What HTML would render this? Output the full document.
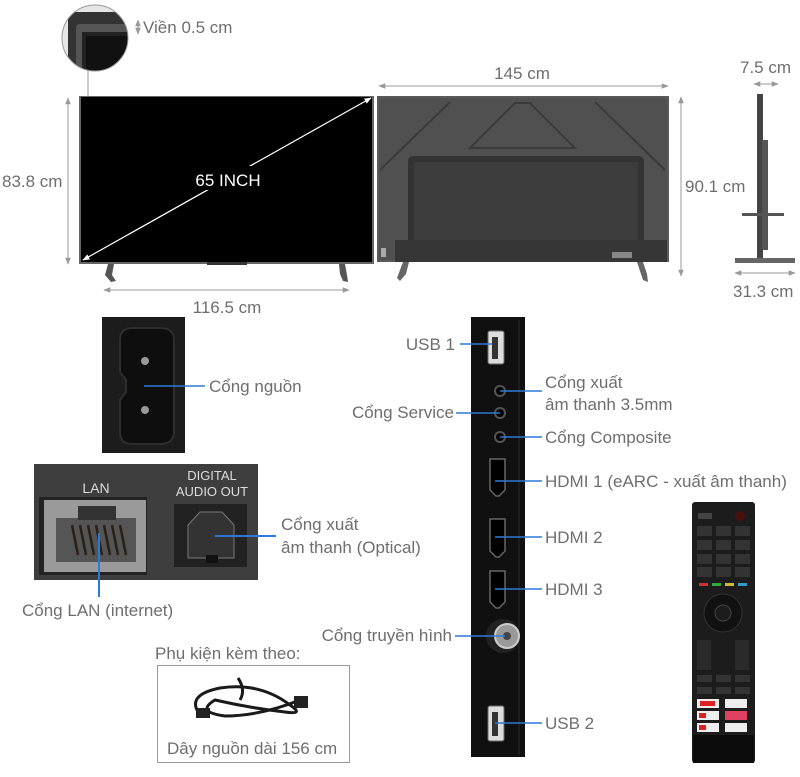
<!DOCTYPE html>
<html><head><meta charset="utf-8"><style>
html,body{margin:0;padding:0;background:#fff;}
svg{display:block;}
text{font-family:"Liberation Sans","DejaVu Sans",sans-serif;fill:#6e6e6e;font-size:17px;}
</style></head><body>
<svg width="800" height="777" viewBox="0 0 800 777" xmlns="http://www.w3.org/2000/svg">
<defs>
<marker id="ah" viewBox="0 0 10 10" refX="9" refY="5" markerWidth="7" markerHeight="7" orient="auto-start-reverse"><path d="M0,1 L10,5 L0,9 z" fill="#999"/></marker>
<marker id="aw" viewBox="0 0 10 10" refX="9" refY="5" markerWidth="6" markerHeight="6" orient="auto-start-reverse"><path d="M0,1 L10,5 L0,9 z" fill="#fff"/></marker>
<clipPath id="cc"><circle cx="95" cy="38" r="33"/></clipPath>
</defs>

<g clip-path="url(#cc)">
<rect x="60" y="4" width="72" height="70" fill="#e6e6e6"/>
<path d="M68,74 L68,18 Q68,12 74,12 L132,12 L132,74z" fill="#333"/>
<path d="M76,74 L76,28 Q76,24 80,24 L132,24 L132,74z" fill="#555"/>
<path d="M82,74 L82,32 L132,32 L132,74z" fill="#222"/>
<path d="M86,74 L86,36 L132,36 L132,74z" fill="#111"/>
</g>
<circle cx="95" cy="38" r="33" fill="none" stroke="#999" stroke-width="1"/>
<line x1="88" y1="71" x2="88" y2="97" stroke="#999"/>
<line x1="138" y1="20" x2="138" y2="34" stroke="#888" marker-start="url(#ah)" marker-end="url(#ah)"/>
<text x="143" y="33">Viền 0.5 cm</text>

<rect x="79" y="96" width="295" height="168" fill="#666"/>
<rect x="81" y="97" width="291" height="165" fill="#000"/>
<rect x="207" y="262" width="40" height="3" fill="#333"/>
<path d="M108,264 L114,264 L112,275 L116,281 L111,282 L105,275z" fill="#555"/>
<path d="M339,264 L345,264 L347,275 L348,282 L343,281 L340,274z" fill="#555"/>
<line x1="83" y1="260" x2="371" y2="98" stroke="#fff" stroke-width="1.2" marker-start="url(#aw)" marker-end="url(#aw)"/>
<rect x="188" y="166" width="80" height="24" fill="#000"/>
<text x="228" y="186" text-anchor="middle" style="fill:#fff;font-size:17px">65 INCH</text>
<line x1="68" y1="98" x2="68" y2="264" stroke="#999" marker-start="url(#ah)" marker-end="url(#ah)"/>
<text x="2" y="187">83.8 cm</text>
<line x1="104" y1="290" x2="349" y2="290" stroke="#999" marker-start="url(#ah)" marker-end="url(#ah)"/>
<text x="227" y="313" text-anchor="middle">116.5 cm</text>

<rect x="377" y="96" width="292" height="166" fill="#5a5a5a"/>
<rect x="379" y="98" width="288" height="162" fill="#505050"/>
<path d="M380,170 L450,102 M665,170 L595,102 M470,148 L515,103 L530,103 L575,148z" stroke="#3a3a3a" stroke-width="2" fill="none"/>
<path d="M408,260 L408,162 Q408,156 414,156 L638,156 Q644,156 644,162 L644,260z" fill="#333"/>
<rect x="414" y="162" width="224" height="78" fill="#3c3c3c"/>
<rect x="395" y="240" width="272" height="22" fill="#363636"/>
<rect x="612" y="252" width="20" height="6" fill="#888"/>
<rect x="381" y="248" width="5" height="9" fill="#aaa"/>
<path d="M403,262 L409,262 L406,274 L400,281 L397,278z" fill="#666"/>
<path d="M637,262 L643,262 L647,274 L648,282 L643,280z" fill="#666"/>
<line x1="379" y1="86" x2="668" y2="86" stroke="#999" marker-start="url(#ah)" marker-end="url(#ah)"/>
<text x="522" y="79" text-anchor="middle">145 cm</text>
<line x1="681" y1="97" x2="681" y2="276" stroke="#999" marker-start="url(#ah)" marker-end="url(#ah)"/>
<text x="685" y="192">90.1 cm</text>

<rect x="757" y="94" width="6" height="166" fill="#444"/>
<rect x="762" y="140" width="6" height="110" fill="#555"/>
<rect x="742" y="213" width="42" height="3" fill="#555"/>
<rect x="735" y="258" width="60" height="5" fill="#666"/>
<line x1="754" y1="84" x2="778" y2="84" stroke="#999" marker-start="url(#ah)" marker-end="url(#ah)"/>
<text x="740" y="73">7.5 cm</text>
<line x1="735" y1="273" x2="795" y2="273" stroke="#999" marker-start="url(#ah)" marker-end="url(#ah)"/>
<text x="733" y="297">31.3 cm</text>

<rect x="102" y="317" width="83" height="136" fill="#1c1c1c"/>
<path d="M120,340 Q120,328 132,328 L160,328 Q174,328 174,340 L174,432 Q174,444 160,444 L132,444 Q120,444 120,432 L120,400 L126,392 L126,380 L120,372z" fill="#0e0e0e" stroke="#2e2e2e" stroke-width="2"/>
<circle cx="145" cy="361" r="4" fill="#999"/>
<circle cx="145" cy="410" r="4" fill="#999"/>
<line x1="144" y1="386" x2="205" y2="386" stroke="#2a7ad6" stroke-width="1.5"/>
<text x="209" y="392">Cổng nguồn</text>

<rect x="34" y="464" width="224" height="116" fill="#3e3e3e"/>
<text x="96" y="493" text-anchor="middle" style="fill:#ddd;font-size:14px">LAN</text>
<text x="212" y="480" text-anchor="middle" style="fill:#ddd;font-size:13px">DIGITAL</text>
<text x="212" y="496" text-anchor="middle" style="fill:#ddd;font-size:13px">AUDIO OUT</text>
<rect x="39" y="497" width="108" height="78" fill="#222"/>
<rect x="44" y="500" width="102" height="72" fill="#9a9a9a"/>
<rect x="56" y="518" width="80" height="44" fill="#555"/>
<rect x="78" y="506" width="38" height="14" fill="#333"/>
<g stroke="#2b2116" stroke-width="2.5">
<line x1="72" y1="525" x2="78" y2="555"/><line x1="80" y1="525" x2="86" y2="555"/><line x1="88" y1="525" x2="94" y2="555"/><line x1="96" y1="525" x2="102" y2="555"/><line x1="104" y1="525" x2="110" y2="555"/><line x1="112" y1="525" x2="118" y2="555"/><line x1="120" y1="525" x2="126" y2="555"/></g>
<rect x="174" y="504" width="73" height="63" fill="#222"/>
<path d="M188,558 L188,525 L200,512 L222,512 L234,525 L234,558z" fill="#333" stroke="#777"/>
<rect x="206" y="555" width="12" height="8" fill="#111"/>
<line x1="99" y1="533" x2="99" y2="597" stroke="#2a7ad6" stroke-width="2"/>
<text x="22" y="616">Cổng LAN (internet)</text>
<line x1="215" y1="536" x2="276" y2="536" stroke="#2a7ad6" stroke-width="2"/>
<text x="281" y="530">Cổng xuất</text>
<text x="281" y="553">âm thanh (Optical)</text>

<text x="155" y="659">Phụ kiện kèm theo:</text>
<rect x="157.5" y="665.5" width="192" height="97" fill="#fff" stroke="#999"/>
<g fill="none" stroke="#1a1a1a" stroke-width="3">
<path d="M200,715 Q185,695 220,688 Q260,682 290,705 Q305,715 285,712 Q250,708 215,700 Q195,712 225,716 Q260,716 300,700"/>
<path d="M238,678 Q246,690 240,700"/></g>
<rect x="294" y="696" width="14" height="12" fill="#222"/>
<rect x="196" y="708" width="14" height="10" fill="#222"/>
<text x="167" y="754">Dây nguồn dài 156 cm</text>

<rect x="471" y="317" width="54" height="440" fill="#101010"/>
<line x1="519" y1="320" x2="519" y2="755" stroke="#2a2a2a"/>
<g fill="#ddd" stroke="#666">
<rect x="488" y="331" width="16" height="33" rx="2"/>
<rect x="488" y="706" width="16" height="35" rx="2"/></g>
<rect x="492" y="337" width="6" height="22" fill="#333"/>
<rect x="492" y="712" width="6" height="24" fill="#333"/>
<g fill="#000" stroke="#555" stroke-width="2">
<circle cx="500" cy="391" r="5"/><circle cx="500" cy="413" r="5"/><circle cx="500" cy="437" r="5"/></g>
<g fill="#000" stroke="#666" stroke-width="1.5">
<path d="M490,459 L505,459 L505,490 L499,496 L496,496 L490,490z"/>
<path d="M490,519 L505,519 L505,551 L499,557 L496,557 L490,551z"/>
<path d="M490,571 L505,571 L505,602 L499,608 L496,608 L490,602z"/></g>
<circle cx="503" cy="636" r="17" fill="#222"/>
<circle cx="507" cy="636" r="12" fill="#999" stroke="#ccc" stroke-width="2"/>
<circle cx="507" cy="636" r="4" fill="#444"/>
<g stroke="#2a7ad6" stroke-width="1.5">
<line x1="460" y1="344" x2="492" y2="344"/>
<line x1="500" y1="391" x2="542" y2="391"/>
<line x1="456" y1="413" x2="500" y2="413"/>
<line x1="500" y1="437" x2="542" y2="437"/>
<line x1="495" y1="481" x2="542" y2="481"/>
<line x1="495" y1="537" x2="542" y2="537"/>
<line x1="495" y1="589" x2="542" y2="589"/>
<line x1="455" y1="636" x2="505" y2="636"/>
<line x1="495" y1="723" x2="542" y2="723"/></g>
<text x="455" y="350" text-anchor="end">USB 1</text>
<text x="545" y="388">Cổng xuất</text>
<text x="545" y="410">âm thanh 3.5mm</text>
<text x="454" y="418" text-anchor="end">Cổng Service</text>
<text x="545" y="443">Cổng Composite</text>
<text x="545" y="487">HDMI 1 (eARC - xuất âm thanh)</text>
<text x="545" y="543">HDMI 2</text>
<text x="545" y="595">HDMI 3</text>
<text x="452" y="641" text-anchor="end">Cổng truyền hình</text>
<text x="545" y="729">USB 2</text>

<rect x="692" y="502" width="63" height="261" rx="3" fill="#1c1c1c"/>
<rect x="693" y="735" width="61" height="28" fill="#0c0c0c"/>
<circle cx="740" cy="516" r="5" fill="#4a1010"/>
<rect x="698" y="513" width="14" height="6" fill="#444"/>
<g fill="#333">
<rect x="697" y="526" width="15" height="10"/><rect x="716" y="526" width="15" height="10"/><rect x="735" y="526" width="15" height="10"/>
<rect x="697" y="540" width="15" height="10"/><rect x="716" y="540" width="15" height="10"/><rect x="735" y="540" width="15" height="10"/>
<rect x="697" y="554" width="15" height="10"/><rect x="716" y="554" width="15" height="10"/><rect x="735" y="554" width="15" height="10"/>
<rect x="697" y="567" width="15" height="10"/><rect x="716" y="567" width="15" height="10"/><rect x="735" y="567" width="15" height="10"/></g>
<rect x="699" y="583" width="9" height="3" fill="#c33"/><rect x="712" y="583" width="9" height="3" fill="#3a3"/><rect x="725" y="583" width="9" height="3" fill="#cb3"/><rect x="738" y="583" width="9" height="3" fill="#39c"/>
<circle cx="723" cy="613" r="19" fill="#111" stroke="#333"/>
<circle cx="723" cy="613" r="8" fill="#1c1c1c" stroke="#444"/>
<rect x="697" y="640" width="14" height="30" fill="#2a2a2a"/><rect x="735" y="640" width="14" height="30" fill="#2a2a2a"/>
<g fill="#333"><rect x="697" y="675" width="15" height="7"/><rect x="716" y="675" width="15" height="7"/><rect x="735" y="675" width="15" height="7"/>
<rect x="697" y="687" width="15" height="7"/><rect x="716" y="687" width="15" height="7"/><rect x="735" y="687" width="15" height="7"/></g>
<rect x="697" y="699" width="22" height="9" fill="#eee"/><rect x="725" y="699" width="22" height="9" fill="#eee"/>
<rect x="697" y="711" width="22" height="9" fill="#eee"/><rect x="725" y="711" width="22" height="9" fill="#e04060"/>
<rect x="697" y="723" width="22" height="9" fill="#eee"/><rect x="725" y="723" width="22" height="9" fill="#eee"/>
<rect x="700" y="701" width="15" height="5" fill="#d22"/><rect x="699" y="713" width="7" height="5" fill="#d22"/><rect x="699" y="725" width="7" height="5" fill="#d22"/>
</svg>
</body></html>
